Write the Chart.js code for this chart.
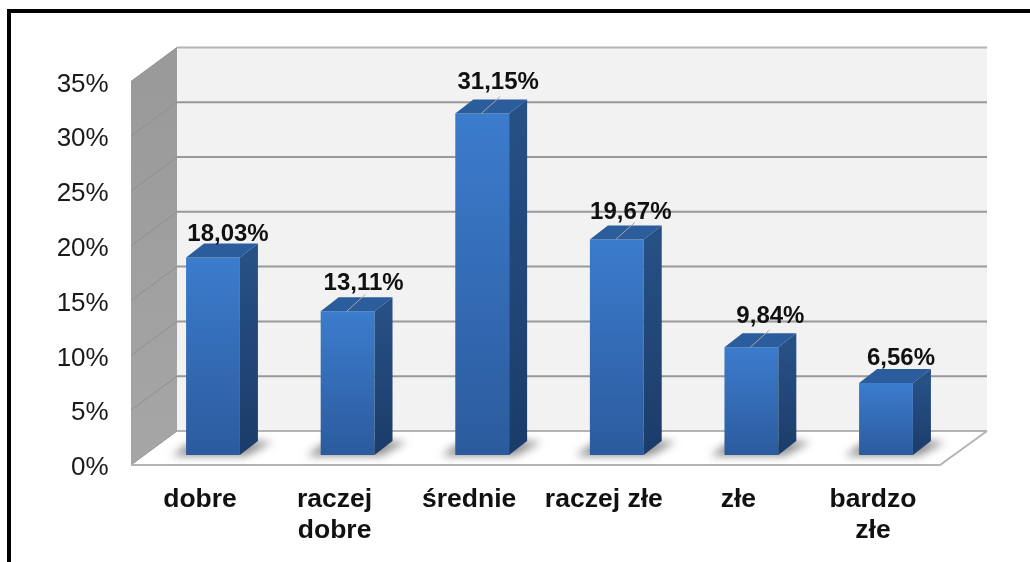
<!DOCTYPE html>
<html>
<head>
<meta charset="utf-8">
<style>
  html, body { margin: 0; padding: 0; background: #fff; overflow: hidden; }
  canvas { display: block; }
</style>
<script src="https://cdn.jsdelivr.net/npm/chart.js@4"></script>
</head>
<body>
<canvas id="chart" width="1030" height="562"></canvas>
<script>
const categories = ['dobre', ['raczej', 'dobre'], 'średnie', 'raczej złe', 'złe', ['bardzo', 'złe']];
const values = [18.03, 13.11, 31.15, 19.67, 9.84, 6.56];
const valueLabels = ['18,03%', '13,11%', '31,15%', '19,67%', '9,84%', '6,56%'];
const yMax = 35;
const yStep = 5;

// label placement relative to the bar's top, the way the original has them dragged around
const labelShiftX = [15, 16, 16, 14, 19, 15];
const labelShiftY = [-23, -28, -31, -27, -31, -25];
const hasLeader = [false, true, true, true, true, false];

const FONT = '"Liberation Sans", Arial, sans-serif';
const WALL_DX = 46, WALL_DY = -34;   // front edge to back wall
const BAR_DX = 18, BAR_DY = -14;     // bar depth

function poly(ctx, pts, fill) {
  ctx.beginPath();
  pts.forEach((p, i) => i ? ctx.lineTo(p[0], p[1]) : ctx.moveTo(p[0], p[1]));
  ctx.closePath();
  ctx.fillStyle = fill;
  ctx.fill();
}

const frame3d = {
  id: 'frame3d',
  beforeDraw(chart) {
    const ctx = chart.ctx, y = chart.scales.y;
    const frontL = 131, frontR = 940;
    const backL = frontL + WALL_DX, backR = frontR + 47;
    const frontY = v => y.getPixelForValue(v) + 10;
    const backY = v => frontY(v) + WALL_DY;
    ctx.save();

    // black frame, open on the right and at the bottom
    ctx.fillStyle = '#000';
    ctx.fillRect(7, 9, 1023, 4);
    ctx.fillRect(7, 9, 4, 553);

    // back wall
    ctx.fillStyle = '#f2f2f2';
    ctx.fillRect(backL, backY(yMax), backR - backL, backY(0) - backY(yMax));

    // left wall
    const wall = ctx.createLinearGradient(0, frontY(yMax), 0, frontY(0));
    wall.addColorStop(0, '#9a9a9a');
    wall.addColorStop(1, '#a6a6a6');
    poly(ctx, [[frontL, frontY(yMax)], [backL, backY(yMax)], [backL, backY(0)], [frontL, frontY(0)]], wall);

    // floor
    poly(ctx, [[frontL, frontY(0)], [backL, backY(0)], [backR, backY(0)], [frontR, frontY(0)]], '#fff');

    // gridlines
    for (let v = 0; v <= yMax; v += yStep) {
      ctx.strokeStyle = '#8f8f8f';
      ctx.lineWidth = 1;
      ctx.beginPath();
      ctx.moveTo(frontL, frontY(v));
      ctx.lineTo(backL, backY(v));
      ctx.stroke();
      ctx.strokeStyle = v === 0 || v === yMax ? '#b4b4b4' : '#999';
      ctx.lineWidth = 2;
      ctx.beginPath();
      ctx.moveTo(backL, backY(v));
      ctx.lineTo(backR, backY(v));
      ctx.stroke();
    }

    // floor edges
    ctx.strokeStyle = '#b4b4b4';
    ctx.lineWidth = 2;
    ctx.beginPath();
    ctx.moveTo(frontL, frontY(0));
    ctx.lineTo(frontR, frontY(0));
    ctx.lineTo(backR, backY(0));
    ctx.stroke();
    ctx.restore();
  },
  beforeDatasetsDraw(chart) {
    // soft shadow on the floor behind each bar
    const ctx = chart.ctx;
    chart.getDatasetMeta(0).data.forEach(bar => {
      const l = bar.x - bar.width / 2, r = bar.x + bar.width / 2, b = bar.base;
      ctx.save();
      ctx.filter = 'blur(4px)';
      poly(ctx, [[l - 14, b + 1], [l + 2, b - 11], [r + 18, b - 14], [r + 32, b - 13], [r + 6, b + 1]], 'rgba(70,70,70,0.6)');
      ctx.restore();
    });
  },
  afterDatasetsDraw(chart) {
    const ctx = chart.ctx;
    chart.getDatasetMeta(0).data.forEach((bar, i) => {
      const l = bar.x - bar.width / 2, r = bar.x + bar.width / 2, t = bar.y, b = bar.base;
      ctx.save();
      const side = ctx.createLinearGradient(0, t, 0, b);
      side.addColorStop(0, '#275085');
      side.addColorStop(1, '#1b3c69');
      poly(ctx, [[r, t], [r + BAR_DX, t + BAR_DY], [r + BAR_DX, b + BAR_DY], [r, b]], side);
      poly(ctx, [[l, t], [l + BAR_DX, t + BAR_DY], [r + BAR_DX, t + BAR_DY], [r, t]], '#2b5c9b');

      if (hasLeader[i]) {
        ctx.strokeStyle = '#a8a8a8';
        ctx.lineWidth = 1;
        ctx.beginPath();
        ctx.moveTo(bar.x - 1, t);
        ctx.lineTo(bar.x + 18, t - 17);
        ctx.stroke();
      }

      ctx.fillStyle = '#111';
      ctx.font = 'bold 24px ' + FONT;
      ctx.textAlign = 'center';
      ctx.textBaseline = 'middle';
      ctx.fillText(valueLabels[i], bar.x + labelShiftX[i], t + labelShiftY[i]);
      ctx.restore();
    });
  }
};

// every bar runs its own light-to-dark gradient from top to bottom
function barFill(c) {
  const y = c.chart.scales.y;
  const top = y ? y.getPixelForValue(c.raw) : NaN;
  const bottom = y ? y.getPixelForValue(0) : NaN;
  if (!Number.isFinite(top) || !Number.isFinite(bottom)) return '#3370b8';
  const fill = c.chart.ctx.createLinearGradient(0, top, 0, bottom);
  fill.addColorStop(0, '#3c7ccd');
  fill.addColorStop(1, '#2b5b9d');
  return fill;
}

new Chart(document.getElementById('chart').getContext('2d'), {
  type: 'bar',
  data: {
    labels: categories,
    datasets: [{
      data: values,
      backgroundColor: barFill,
      borderWidth: 0,
      barPercentage: 0.4,
      categoryPercentage: 1
    }]
  },
  plugins: [frame3d],
  options: {
    responsive: false,
    animation: false,
    events: [],
    layout: { padding: { left: 0, top: 71.4, right: 76.7, bottom: 0 } },
    plugins: { legend: { display: false }, title: { display: false }, tooltip: { enabled: false } },
    scales: {
      x: {
        grid: { display: false, drawTicks: false },
        border: { display: false },
        afterFit: s => { s.height = 107; },
        ticks: {
          autoSkip: false,
          maxRotation: 0,
          minRotation: 0,
          padding: 30,
          labelOffset: -13,
          color: '#111',
          font: { family: FONT, size: 26.5, weight: 'bold', lineHeight: 1.14 }
        }
      },
      y: {
        min: 0,
        max: yMax,
        grid: { display: false, drawTicks: false },
        border: { display: false },
        afterFit: s => { s.width = 145.7; },
        ticks: {
          stepSize: yStep,
          padding: 37,
          labelOffset: 13,
          color: '#1a1a1a',
          font: { family: FONT, size: 26 },
          callback: v => v + '%'
        }
      }
    }
  }
});
</script>
</body>
</html>
